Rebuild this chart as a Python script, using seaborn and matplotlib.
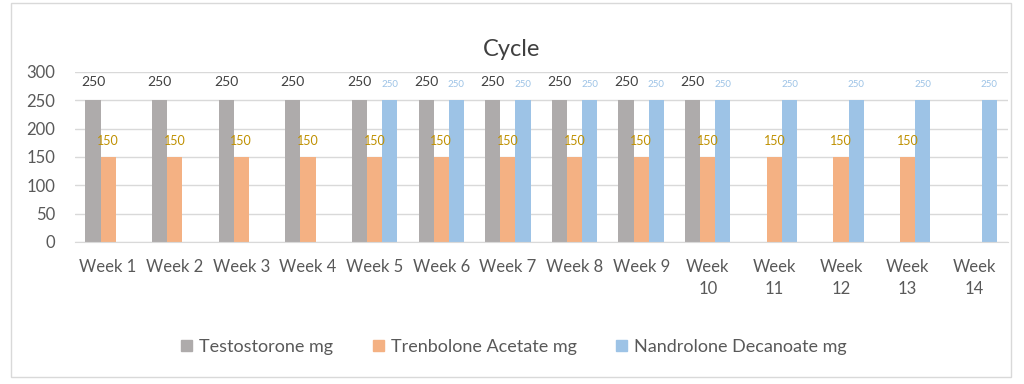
import seaborn as sns
import pandas as pd
import numpy as np
import matplotlib.pyplot as plt
from matplotlib.patches import Rectangle

weeks = ['Week 1', 'Week 2', 'Week 3', 'Week 4', 'Week 5', 'Week 6', 'Week 7',
         'Week 8', 'Week 9', 'Week\n10', 'Week\n11', 'Week\n12', 'Week\n13', 'Week\n14']
nan = np.nan
testosterone = [250, 250, 250, 250, 250, 250, 250, 250, 250, 250, nan, nan, nan, nan]
trenbolone = [150, 150, 150, 150, 150, 150, 150, 150, 150, 150, 150, 150, 150, nan]
nandrolone = [nan, nan, nan, nan, 250, 250, 250, 250, 250, 250, 250, 250, 250, 250]
series = ['Testostorone mg', 'Trenbolone Acetate mg', 'Nandrolone Decanoate mg']
colors = ['#AEABAB', '#F4B183', '#9DC3E6']

df = pd.DataFrame({'week': weeks * 3,
                   'series': [series[0]] * 14 + [series[1]] * 14 + [series[2]] * 14,
                   'mg': testosterone + trenbolone + nandrolone})

sns.set_style('white')
plt.rcParams['font.family'] = ['Lato', 'DejaVu Sans']

fig = plt.figure(figsize=(10.24, 3.84), dpi=100)
ax = fig.add_axes([0.073, 0.37, 0.911, 0.4425])
fig.patches.append(Rectangle((0.011, 0.018), 0.976, 0.975, transform=fig.transFigure,
                             fill=False, edgecolor='#D9D9D9', linewidth=1))

sns.barplot(data=df, x='week', y='mg', hue='series', hue_order=series, order=weeks,
            palette=colors, width=0.68, ax=ax, legend=False, saturation=1, linewidth=0)

lab_colors = ['#404040', '#BF9000', '#9DC3E6']
lab_sizes = [10, 9, 7]
lab_pads = [9, 7, 8]
for cont, c, s, p in zip(ax.containers, lab_colors, lab_sizes, lab_pads):
    ax.bar_label(cont, fmt='%g', color=c, fontsize=s, padding=p)

ax.set_ylim(0, 300)
ax.set_xlim(-0.5, 13.5)
ax.set_yticks(range(0, 301, 50))
ax.yaxis.grid(True, color='#D9D9D9', linewidth=1)
ax.set_axisbelow(True)
for k in ['top', 'left', 'right']:
    ax.spines[k].set_visible(False)
ax.spines['bottom'].set_color('#D9D9D9')
ax.tick_params(axis='both', length=0, labelsize=12, labelcolor='#595959')
ax.tick_params(axis='y', pad=14)
ax.tick_params(axis='x', pad=12)
for t in ax.get_xticklabels():
    t.set_linespacing(1.5)
ax.set_xlabel('')
ax.set_ylabel('')
fig.text(0.5, 0.855, 'Cycle', ha='center', fontsize=17, color='#404040')

handles = [Rectangle((0, 0), 1, 1, color=c) for c in colors]
fig.legend(handles, series, loc='center', bbox_to_anchor=(0.502, 0.097), ncol=3,
           frameon=False, fontsize=13, handlelength=0.6, handleheight=0.6,
           columnspacing=2.2, handletextpad=0.4, labelcolor='#595959')

fig.savefig('out.png', dpi=100)
